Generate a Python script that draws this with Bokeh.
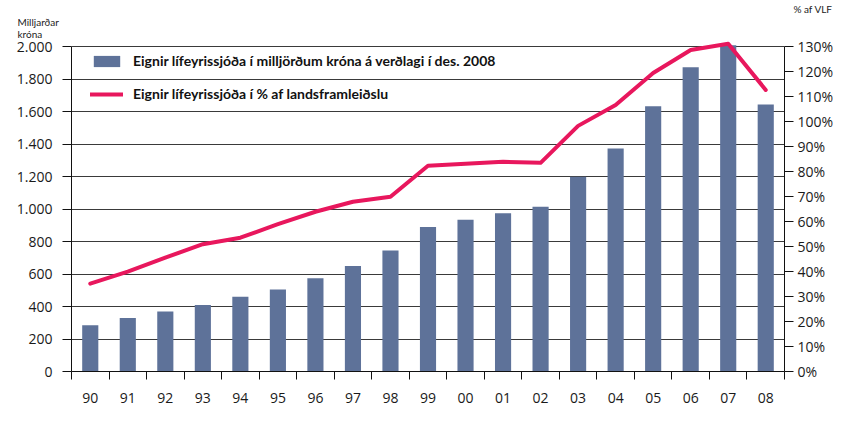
from bokeh.plotting import figure
from bokeh.models import (Range1d, LinearAxis, FixedTicker, Legend, LegendItem, Title)
from bokeh.embed import file_html
from bokeh.resources import INLINE

# ---- data ----
years = ["90", "91", "92", "93", "94", "95", "96", "97", "98", "99",
         "00", "01", "02", "03", "04", "05", "06", "07", "08"]
assets_bn = [285, 330, 370, 410, 460, 505, 575, 650, 745, 890,
             935, 975, 1015, 1200, 1375, 1635, 1875, 2010, 1645]
assets_pct_gdp = [35.2, 40.0, 45.6, 51.0, 53.6, 59.0, 64.0, 68.0, 70.0, 82.4,
                  83.2, 84.0, 83.6, 98.4, 106.8, 119.6, 128.8, 131.3, 112.8]
left_ticks = [0, 200, 400, 600, 800, 1000, 1200, 1400, 1600, 1800, 2000]
left_tick_labels = ["0", "200", "400", "600", "800", "1.000", "1.200", "1.400",
                    "1.600", "1.800", "2.000"]
right_ticks = list(range(0, 140, 10))
right_tick_labels = [f"{t}%" for t in right_ticks]
bar_label = "Eignir lífeyrissjóða í milljörðum króna á verðlagi í des. 2008"
line_label = "Eignir lífeyrissjóða í % af landsframleiðslu"
left_unit = "Milljarðar\nkróna"
right_unit = "% af VLF"

BAR_COLOR = "#5e7299"
LINE_COLOR = "#e8175d"
TICK_FONT = "Open Sans"
LEG_FONT = "Lato"

n = len(years)
centers = [i + 0.5 for i in range(n)]
bounds = list(range(n + 1))

p = figure(width=855, height=420, output_backend="svg", toolbar_location=None,
           title=None,
           x_range=Range1d(0, n), y_range=Range1d(0, 2040),
           min_border_left=71, min_border_right=71, min_border_top=39,
           min_border_bottom=49)
p.extra_y_ranges = {"pct": Range1d(0, 2040 * 130 / 2000)}
p.outline_line_color = None
p.background_fill_color = "white"
p.border_fill_color = "white"

bars = p.vbar(x=centers, top=assets_bn, width=0.43, fill_color=BAR_COLOR,
              line_color=None)
ln = p.line(x=centers, y=assets_pct_gdp, y_range_name="pct", line_color=LINE_COLOR,
            line_width=4, line_join="round", line_cap="round")

# x axis
xa = p.xaxis[0]
xa.ticker = FixedTicker(ticks=centers, minor_ticks=bounds)
xa.major_label_overrides = {c: y for c, y in zip(centers, years)}
xa.major_tick_line_color = None
xa.major_tick_out = 8
xa.major_tick_in = 0
xa.minor_tick_out = 8
xa.minor_tick_in = 0
xa.minor_tick_line_color = "#111111"
xa.axis_line_color = "#111111"
xa.major_label_standoff = 13
xa.major_label_text_font = TICK_FONT
xa.major_label_text_font_size = "14px"
xa.major_label_text_color = "#1a1a1a"

# left axis
ya = p.yaxis[0]
ya.ticker = FixedTicker(ticks=left_ticks)
ya.bounds = (0, 2000)
ya.major_label_overrides = {t: l for t, l in zip(left_ticks, left_tick_labels)}
ya.major_tick_out = 9
ya.major_tick_in = 0
ya.minor_tick_line_color = None
ya.axis_line_color = "#111111"
ya.major_tick_line_color = "#111111"
ya.major_label_standoff = 10
ya.major_label_text_font = TICK_FONT
ya.major_label_text_font_size = "14px"
ya.major_label_text_color = "#1a1a1a"

# right axis
ra = LinearAxis(y_range_name="pct", ticker=FixedTicker(ticks=right_ticks),
                bounds=(0, 130))
ra.major_label_overrides = {t: l for t, l in zip(right_ticks, right_tick_labels)}
ra.major_tick_out = 9
ra.major_tick_in = 0
ra.minor_tick_line_color = None
ra.axis_line_color = "#111111"
ra.major_tick_line_color = "#111111"
ra.major_label_standoff = 4
ra.major_label_text_font = TICK_FONT
ra.major_label_text_font_size = "14px"
ra.major_label_text_color = "#1a1a1a"
p.add_layout(ra, "right")

p.xgrid.grid_line_color = None
p.ygrid.ticker = FixedTicker(ticks=left_ticks)
p.ygrid.grid_line_color = "#3a3a3a"
p.ygrid.grid_line_width = 1

legend = Legend(items=[LegendItem(label=bar_label, renderers=[bars]),
                       LegendItem(label=line_label, renderers=[ln])],
                location=(19, 269), margin=0, padding=0, spacing=16,
                glyph_width=33, glyph_height=14, label_height=17,
                label_standoff=10, background_fill_alpha=0, border_line_alpha=0,
                label_text_font=LEG_FONT, label_text_font_style="bold",
                label_text_font_size="14px", label_text_color="#111111")
p.add_layout(legend, "center")

t_left = Title(text=left_unit, align="left", offset=-54, standoff=0,
               vertical_align="middle", text_font=LEG_FONT, text_font_size="10px",
               text_font_style="normal", text_color="#222222")
t_right = Title(text=right_unit, align="right", offset=-48, standoff=0,
                vertical_align="bottom", text_font=LEG_FONT, text_font_size="10px",
                text_font_style="normal", text_color="#222222")
p.add_layout(t_left, "above")
p.add_layout(t_right, "above")

open("out.html", "w").write(file_html(p, INLINE))
